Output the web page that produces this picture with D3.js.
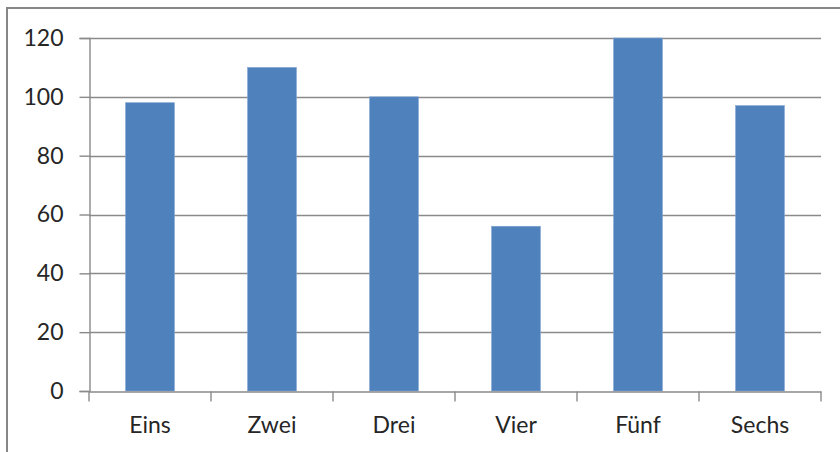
<!DOCTYPE html>
<html><head><meta charset="utf-8">
<script src="https://cdn.jsdelivr.net/npm/d3@7"></script>
<style>html,body{margin:0;padding:0;background:#fff;}svg{display:block;}</style>
</head><body>
<svg id="chart" width="840" height="452"></svg>
<script>
const categories = ["Eins", "Zwei", "Drei", "Vier", "Fünf", "Sechs"];
const values = [98, 110, 100, 56, 120, 97];
const yTicks = [0, 20, 40, 60, 80, 100, 120];

const svg = d3.select("#chart");
const W = 840, H = 452;
const m = {left: 89, right: 19, top: 38, bottom: 61};

svg.append("rect").attr("x", 7).attr("y", 8).attr("width", 845).attr("height", 460)
  .attr("fill", "#fff").attr("stroke", "#878787").attr("stroke-width", 2);

const x = d3.scaleBand().domain(categories).range([m.left, W - m.right]).paddingInner(0).paddingOuter(0);
const y = d3.scaleLinear().domain([0, 120]).range([H - m.bottom, m.top]);

const font = "Lato, 'Open Sans', sans-serif";
const fs = 23;

// gridlines
svg.append("g").selectAll("line").data(yTicks.filter(t => t > 0)).join("line")
  .attr("x1", m.left).attr("x2", W - m.right)
  .attr("y1", d => Math.round(y(d)) + 0.5).attr("y2", d => Math.round(y(d)) + 0.5)
  .attr("stroke", "#8a8a8a").attr("stroke-width", 1.4);

// bars
const bw = x.bandwidth() * 0.4;
svg.append("g").selectAll("rect").data(values).join("rect")
  .attr("x", (d, i) => x(categories[i]) + (x.bandwidth() - bw) / 2)
  .attr("y", d => y(d))
  .attr("width", bw)
  .attr("height", d => y(0) - y(d))
  .attr("fill", "#4F81BD")
  .attr("stroke", "#7fa3cf").attr("stroke-width", 0.6);

// y axis
const yAxis = d3.axisLeft(y).tickValues(yTicks).tickSize(10).tickPadding(16).tickFormat(d3.format("d"));
const gy = svg.append("g").attr("transform", `translate(${m.left + 0.5},0)`).call(yAxis);
gy.select(".domain").attr("stroke", "#8a8a8a").attr("stroke-width", 1.4);
gy.selectAll(".tick line").attr("stroke", "#8a8a8a").attr("stroke-width", 1.4);
gy.selectAll(".tick text").attr("font-family", font).attr("font-size", fs).attr("fill", "#262626");

// x axis
const xAxis = d3.axisBottom(x).tickSize(0).tickPadding(25);
const gx = svg.append("g").attr("transform", `translate(0,${Math.round(y(0)) + 0.5})`).call(xAxis);
gx.select(".domain").attr("stroke", "#8a8a8a").attr("stroke-width", 1.4);
gx.selectAll(".tick text").attr("font-family", font).attr("font-size", fs).attr("fill", "#262626");

// category boundary ticks
const bounds = categories.map(c => x(c)).concat([x(categories[categories.length - 1]) + x.bandwidth()]);
gx.append("g").selectAll("line").data(bounds).join("line")
  .attr("x1", d => d).attr("x2", d => d).attr("y1", 0).attr("y2", 10)
  .attr("stroke", "#8a8a8a").attr("stroke-width", 1.4);
</script>
</body></html>
